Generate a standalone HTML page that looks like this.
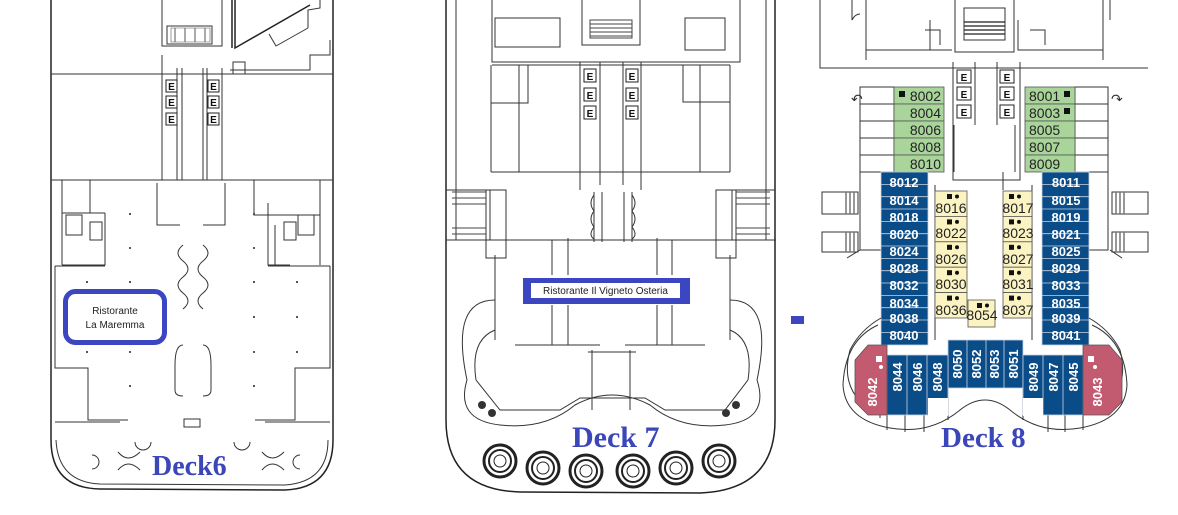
<!DOCTYPE html>
<html><head><meta charset="utf-8"><style>
html,body{margin:0;padding:0;background:#fff;}
svg{display:block;}
.l{fill:none;stroke:#333;stroke-width:1;}
.t{stroke:#222;stroke-width:1.5;fill:none;}
.e{fill:#fff;stroke:#222;stroke-width:1;}
.et{font:bold 10px "Liberation Sans",sans-serif;fill:#111;text-anchor:middle;}
.dk{font-family:"Liberation Serif",serif;font-weight:bold;fill:#3b46b8;}
.g{fill:#a9d59b;stroke:#555;stroke-width:.8;}
.gt{font:14px "Liberation Sans",sans-serif;fill:#222;text-anchor:end;}
.b{fill:#0a4c88;stroke:#c8d4e4;stroke-width:.8;}
.bt{font:bold 13px "Liberation Sans",sans-serif;fill:#fff;text-anchor:middle;}
.y{fill:#fbf3c2;stroke:#555;stroke-width:.8;}
.yt{font:14px "Liberation Sans",sans-serif;fill:#222;text-anchor:middle;}
.p{fill:#c25a70;stroke:#555;stroke-width:.8;}
.pt{font:bold 13px "Liberation Sans",sans-serif;fill:#fff;text-anchor:middle;}
.dot{fill:#555;}
</style></head><body>
<svg width="1178" height="515" viewBox="0 0 1178 515" xmlns="http://www.w3.org/2000/svg">
<!-- ================= DECK 6 ================= -->
<g>
<path class="t" d="M51 0 V440 Q51 488 100 489 L285 490 Q333 488 333 440 V0"/>
<path class="l" d="M56 440 Q58 482 100 484 L285 485 Q328 482 328 440"/>
<line class="l" x1="51" y1="74" x2="333" y2="74"/>
<line class="l" x1="51" y1="180" x2="333" y2="180"/>
<path class="l" d="M162 0 V46 H222 V0 M167 26 H212 V44 H167Z"/>
<path d="M171 28 H210 V42 H171Z" fill="none" stroke="#555" stroke-width="0.6"/>
<line x1="175" y1="28" x2="175" y2="42" stroke="#555"/><line x1="185" y1="28" x2="185" y2="42" stroke="#555"/><line x1="195" y1="28" x2="195" y2="42" stroke="#555"/><line x1="205" y1="28" x2="205" y2="42" stroke="#555"/>
<path class="t" d="M235 0 L235 48 L310 5 M232 0 V48"/>
<path class="l" d="M269 34 L276 46 L308 28 M308 28 V10 L320 8 V0 M330 40 V55 H310 V70 H230"/>
<path class="l" d="M233 74 V62 H245 V74"/>
<path class="l" d="M162 55 V180 M177 68 V180 M182 68 V180 M203 68 V180 M207 68 V180 M222 68 V180"/>
<rect class="e" x="166" y="80" width="11" height="12"/><text class="et" x="171.5" y="90">E</text>
<rect class="e" x="166" y="96" width="11" height="12"/><text class="et" x="171.5" y="106">E</text>
<rect class="e" x="166" y="113" width="11" height="12"/><text class="et" x="171.5" y="123">E</text>
<rect class="e" x="208" y="80" width="11" height="12"/><text class="et" x="213.5" y="90">E</text>
<rect class="e" x="208" y="96" width="11" height="12"/><text class="et" x="213.5" y="106">E</text>
<rect class="e" x="208" y="113" width="11" height="12"/><text class="et" x="213.5" y="123">E</text>
<path class="l" d="M157 183 V225 H180 M225 183 V225 H203 M62 180 V265 M90 180 V213 M105 213 V265 H62 M105 213 H62"/>
<path class="l" d="M254 180 V215 H320 V180 M320 213 V265 M268 203 V265 H290 M275 225 V265"/>
<rect x="66" y="215" width="16" height="20" fill="none" stroke="#333"/><rect x="90" y="222" width="12" height="18" fill="none" stroke="#333"/>
<rect x="284" y="222" width="12" height="18" fill="none" stroke="#333"/><rect x="298" y="215" width="16" height="20" fill="none" stroke="#333"/>
<path class="l" d="M55 266 H105 M268 266 H330 M55 266 V368 H88 V420 H128 M330 266 V368 H295 V420 H255"/>
<path class="l" d="M55 422 H120 M265 422 H330"/>
<path class="l" d="M183 245 q-10 8 0 16 q10 8 0 16 q-10 8 0 16 q10 8 0 16 M203 245 q10 8 0 16 q-10 8 0 16 q10 8 0 16 q-10 8 0 16"/>
<path class="l" d="M183 345 q-8 0 -8 20 v25 q0 6 8 6 M203 345 q8 0 8 20 v25 q0 6 -8 6"/>
<rect x="184" y="419" width="16" height="8" fill="none" stroke="#333"/>
<path class="l" d="M92 455 a7 7 0 0 1 0 14 M118 452 q10 12 22 0 M118 470 q10 -12 22 0 M135 442 a8 8 0 0 0 16 0 M234 442 a8 8 0 0 0 16 0 M262 452 q10 12 22 0 M262 470 q10 -12 22 0 M300 455 a7 7 0 0 0 0 14"/>
<g class="dot">
<rect x="129" y="247" width="2" height="2"/><rect x="253" y="247" width="2" height="2"/>
<rect x="86" y="281" width="2" height="2"/><rect x="129" y="281" width="2" height="2"/><rect x="253" y="281" width="2" height="2"/><rect x="296" y="281" width="2" height="2"/>
<rect x="253" y="316" width="2" height="2"/><rect x="296" y="316" width="2" height="2"/>
<rect x="86" y="351" width="2" height="2"/><rect x="129" y="351" width="2" height="2"/><rect x="253" y="351" width="2" height="2"/><rect x="296" y="351" width="2" height="2"/>
<rect x="129" y="385" width="2" height="2"/><rect x="253" y="385" width="2" height="2"/>
<rect x="129" y="213" width="2" height="2"/><rect x="253" y="213" width="2" height="2"/>
</g>
<rect x="65.5" y="291.5" width="99" height="51" rx="10" fill="#fff" stroke="#3b46c0" stroke-width="5"/>
<text x="115" y="314" font-family="Liberation Sans,sans-serif" font-size="10" text-anchor="middle" fill="#222">Ristorante</text>
<text x="115" y="328" font-family="Liberation Sans,sans-serif" font-size="10" text-anchor="middle" fill="#222">La Maremma</text>
<text class="dk" x="152" y="475" font-size="28">Deck6</text>
</g>

<!-- ================= DECK 7 ================= -->
<g>
<path class="t" d="M446 0 V420 Q446 490 520 492 L700 493 Q775 490 775 420 V0"/>
<line class="l" x1="456" y1="0" x2="456" y2="240"/><line class="l" x1="766" y1="0" x2="766" y2="240"/>
<path class="l" d="M492 0 V62 H740 V0 M582 0 V45 H640 V0"/>
<path d="M590 20 H632 V38 H590Z" fill="none" stroke="#444"/>
<line x1="590" y1="24" x2="632" y2="24" stroke="#444"/><line x1="590" y1="28" x2="632" y2="28" stroke="#444"/><line x1="590" y1="32" x2="632" y2="32" stroke="#444"/><line x1="590" y1="36" x2="632" y2="36" stroke="#444"/>
<path class="l" d="M495 18 H560 V47 H495Z M685 18 H725 V50 H685Z"/>
<line class="l" x1="492" y1="65" x2="730" y2="65"/>
<path class="l" d="M491 65 V172 M730 65 V172 M580 62 V190 M600 62 V185 M623 62 V185 M641 62 V190 M519 65 V172 M700 65 V172 M491 103 H528 V65 M730 102 H683 V65"/>
<rect class="e" x="584" y="69" width="12" height="13"/><text class="et" x="590" y="80">E</text>
<rect class="e" x="584" y="88" width="12" height="13"/><text class="et" x="590" y="99">E</text>
<rect class="e" x="584" y="106" width="12" height="13"/><text class="et" x="590" y="117">E</text>
<rect class="e" x="626" y="69" width="12" height="13"/><text class="et" x="632" y="80">E</text>
<rect class="e" x="626" y="88" width="12" height="13"/><text class="et" x="632" y="99">E</text>
<rect class="e" x="626" y="106" width="12" height="13"/><text class="et" x="632" y="117">E</text>
<line class="l" x1="491" y1="172" x2="730" y2="172"/>
<path class="l" d="M446 190 H490 V240 M775 190 H732 V240"/>
<rect x="486" y="190" width="20" height="68" fill="none" stroke="#333"/><rect x="716" y="190" width="20" height="68" fill="none" stroke="#333"/>
<path d="M452 192 H486 M452 198 H486 M452 204 H486 M452 228 H486 M452 234 H486 M736 192 H770 M736 198 H770 M736 204 H770 M736 228 H770 M736 234 H770" stroke="#444"/>
<path class="l" d="M446 240 H776"/>
<path class="l" d="M594 192 v50 M602 192 v50 M632 192 v50 M624 192 v50 M552 240 V275 M568 238 V275 M657 238 V275 M672 240 V275 M552 305 V345 M568 305 V345 M657 305 V345 M672 305 V345"/>
<path class="l" d="M594 195 q-6 8 0 16 q-6 8 0 16 q-6 8 0 12 M632 195 q6 8 0 16 q6 8 0 16 q6 8 0 12"/>
<path class="l" d="M495 255 V340 M730 255 V340 M515 345 H600 M625 345 H705 M592 350 V410 M630 350 V410 M588 352 H636"/>
<path class="l" d="M476 380 Q470 340 495 330 M748 380 Q754 340 730 330"/>
<path class="l" d="M476 380 L500 410 L560 410 L580 398 L645 398 L665 410 L725 410 L748 380 M467 380 Q455 420 500 425 Q545 430 575 405 Q612 385 650 405 Q680 430 725 425 Q770 420 757 380"/>
<path class="l" d="M467 380 Q450 300 495 300 M757 380 Q774 300 730 300"/>
<g fill="#333"><circle cx="482" cy="405" r="4"/><circle cx="492" cy="413" r="4"/><circle cx="736" cy="405" r="4"/><circle cx="726" cy="413" r="4"/></g>
<g fill="none" stroke="#222">
<circle cx="500" cy="461" r="16" stroke-width="3"/><circle cx="500" cy="461" r="11" stroke-width="2"/><circle cx="500" cy="461" r="6" stroke-width="1"/>
<circle cx="543" cy="468" r="16" stroke-width="3"/><circle cx="543" cy="468" r="11" stroke-width="2"/><circle cx="543" cy="468" r="6" stroke-width="1"/>
<circle cx="586" cy="471" r="16" stroke-width="3"/><circle cx="586" cy="471" r="11" stroke-width="2"/><circle cx="586" cy="471" r="6" stroke-width="1"/>
<circle cx="633" cy="471" r="16" stroke-width="3"/><circle cx="633" cy="471" r="11" stroke-width="2"/><circle cx="633" cy="471" r="6" stroke-width="1"/>
<circle cx="676" cy="468" r="16" stroke-width="3"/><circle cx="676" cy="468" r="11" stroke-width="2"/><circle cx="676" cy="468" r="6" stroke-width="1"/>
<circle cx="719" cy="461" r="16" stroke-width="3"/><circle cx="719" cy="461" r="11" stroke-width="2"/><circle cx="719" cy="461" r="6" stroke-width="1"/>
</g>
<rect x="523" y="278" width="167" height="26" fill="#3b46c0"/>
<rect x="531" y="283" width="149" height="15" fill="#fff"/>
<text x="605.5" y="294" font-family="Liberation Sans,sans-serif" font-size="10" text-anchor="middle" fill="#222">Ristorante Il Vigneto Osteria</text>
<text class="dk" x="572" y="447" font-size="30">Deck 7</text>
</g>
<rect x="791" y="316" width="13" height="8" fill="#3b46c0"/>

<!-- ================= DECK 8 ================= -->
<g>
<path class="l" d="M820 0 V68 H1148 M852 0 V20 Q855 14 860 14 M1110 0 V20 M866 0 V60 M1103 0 V60 M955 0 V52 H1014 V0 M964 8 H1005 V40 H964Z"/>
<path d="M964 22 H1005 M964 26 H1005 M964 30 H1005 M964 34 H1005" stroke="#222" stroke-width="1.2"/>
<path class="l" d="M930 20 V50 H950 M1018 20 V50 H1040 M925 30 H940 V45 M1030 30 H1045 V45 M866 50 H952 M1018 50 H1103"/>
<path class="l" d="M953 62 V180 H1020 V62 M975 62 V125 M997 62 V125"/>
<rect class="e" x="957" y="70" width="14" height="13"/><text class="et" x="964" y="81">E</text>
<rect class="e" x="957" y="87" width="14" height="13"/><text class="et" x="964" y="98">E</text>
<rect class="e" x="957" y="105" width="14" height="13"/><text class="et" x="964" y="116">E</text>
<rect class="e" x="1000" y="70" width="14" height="13"/><text class="et" x="1007" y="81">E</text>
<rect class="e" x="1000" y="87" width="14" height="13"/><text class="et" x="1007" y="98">E</text>
<rect class="e" x="1000" y="105" width="14" height="13"/><text class="et" x="1007" y="116">E</text>
<path class="l" d="M860 87 H894 V172 H860Z M1075 87 H1108 V172 H1075Z M860 104 H894 M860 121 H894 M860 138 H894 M860 155 H894 M1075 104 H1108 M1075 121 H1108 M1075 138 H1108 M1075 155 H1108"/>
<path class="l" d="M860 172 V250 H881 M1108 172 V250 H1089 M847 258 Q860 250 860 250 M1122 258 Q1110 250 1110 250"/>
<path class="l" d="M954 125 V172 M1015 125 V172 M935 185 V340 M1032 185 V340 M1003 172 V190"/>
<path d="M822 192 H858 V214 H822Z M822 232 H858 V252 H822Z M1112 192 H1148 V214 H1112Z M1112 232 H1148 V252 H1112Z" fill="none" stroke="#333"/>
<path d="M846 192 v22 M850 192 v22 M854 192 v22 M846 232 v20 M850 232 v20 M854 232 v20 M1116 192 v22 M1120 192 v22 M1124 192 v22 M1116 232 v20 M1120 232 v20 M1124 232 v20" stroke="#777" stroke-width="1.5"/>
<text x="851" y="104" font-size="14" fill="#333" font-family="DejaVu Sans,sans-serif">↶</text>
<text x="1111" y="104" font-size="14" fill="#333" font-family="DejaVu Sans,sans-serif">↷</text>
<rect class="g" x="894" y="87" width="50" height="17"/><rect class="g" x="894" y="104" width="50" height="17"/><rect class="g" x="894" y="121" width="50" height="17"/><rect class="g" x="894" y="138" width="50" height="17"/><rect class="g" x="894" y="155" width="50" height="17"/>
<rect x="899" y="91" width="6" height="6" fill="#111"/>
<text class="gt" x="941" y="101">8002</text><text class="gt" x="941" y="118">8004</text><text class="gt" x="941" y="135">8006</text><text class="gt" x="941" y="152">8008</text><text class="gt" x="941" y="169">8010</text>
<rect class="g" x="1025" y="87" width="50" height="17"/><rect class="g" x="1025" y="104" width="50" height="17"/><rect class="g" x="1025" y="121" width="50" height="17"/><rect class="g" x="1025" y="138" width="50" height="17"/><rect class="g" x="1025" y="155" width="50" height="17"/>
<rect x="1064" y="91" width="6" height="6" fill="#111"/><rect x="1064" y="108" width="6" height="6" fill="#111"/>
<g style="font:14px 'Liberation Sans',sans-serif;fill:#222"><text x="1029" y="101">8001</text><text x="1029" y="118">8003</text><text x="1029" y="135">8005</text><text x="1029" y="152">8007</text><text x="1029" y="169">8009</text></g>
<rect class="b" x="881" y="172" width="47" height="173"/>
<rect class="b" x="1042" y="172" width="47" height="173"/>
<g stroke="#c8d4e4" stroke-width=".8">
<path d="M881 184.4H928M881 196.7H928M881 209H928M881 221.4H928M881 233.7H928M881 246H928M881 258.4H928M881 270.7H928M881 283H928M881 295.4H928M881 307.7H928M881 320H928M881 332.4H928"/>
<path d="M1042 184.4H1089M1042 196.7H1089M1042 209H1089M1042 221.4H1089M1042 233.7H1089M1042 246H1089M1042 258.4H1089M1042 270.7H1089M1042 283H1089M1042 295.4H1089M1042 307.7H1089M1042 320H1089M1042 332.4H1089"/>
</g>
<g class="bt">
<text x="904" y="187">8012</text><text x="904" y="205">8014</text><text x="904" y="222">8018</text><text x="904" y="239">8020</text><text x="904" y="256">8024</text><text x="904" y="273">8028</text><text x="904" y="290">8032</text><text x="904" y="308">8034</text><text x="904" y="323">8038</text><text x="904" y="340">8040</text>
<text x="1066" y="187">8011</text><text x="1066" y="205">8015</text><text x="1066" y="222">8019</text><text x="1066" y="239">8021</text><text x="1066" y="256">8025</text><text x="1066" y="273">8029</text><text x="1066" y="290">8033</text><text x="1066" y="308">8035</text><text x="1066" y="323">8039</text><text x="1066" y="340">8041</text>
</g>
<g>
<rect class="y" x="935" y="191" width="32" height="25.4"/><rect class="y" x="935" y="216.4" width="32" height="25.4"/><rect class="y" x="935" y="241.8" width="32" height="25.4"/><rect class="y" x="935" y="267.2" width="32" height="25.4"/><rect class="y" x="935" y="292.6" width="32" height="25.4"/>
<rect class="y" x="1003" y="191" width="29" height="25.4"/><rect class="y" x="1003" y="216.4" width="29" height="25.4"/><rect class="y" x="1003" y="241.8" width="29" height="25.4"/><rect class="y" x="1003" y="267.2" width="29" height="25.4"/><rect class="y" x="1003" y="292.6" width="29" height="25.4"/>
<rect class="y" x="968" y="300" width="27" height="27"/>
</g>
<g fill="#111">
<rect x="947" y="194" width="5" height="5"/><circle cx="957" cy="196.5" r="2"/>
<rect x="947" y="219.4" width="5" height="5"/><circle cx="957" cy="221.9" r="2"/>
<rect x="947" y="244.8" width="5" height="5"/><circle cx="957" cy="247.3" r="2"/>
<rect x="947" y="270.2" width="5" height="5"/><circle cx="957" cy="272.7" r="2"/>
<rect x="947" y="295.6" width="5" height="5"/><circle cx="957" cy="298.1" r="2"/>
<rect x="1009" y="194" width="5" height="5"/><circle cx="1019" cy="196.5" r="2"/>
<rect x="1009" y="219.4" width="5" height="5"/><circle cx="1019" cy="221.9" r="2"/>
<rect x="1009" y="244.8" width="5" height="5"/><circle cx="1019" cy="247.3" r="2"/>
<rect x="1009" y="270.2" width="5" height="5"/><circle cx="1019" cy="272.7" r="2"/>
<rect x="1009" y="295.6" width="5" height="5"/><circle cx="1019" cy="298.1" r="2"/>
<rect x="977" y="303" width="5" height="5"/><circle cx="987" cy="305.5" r="2"/>
</g>
<g class="yt">
<text x="951" y="213">8016</text><text x="951" y="238">8022</text><text x="951" y="264">8026</text><text x="951" y="289">8030</text><text x="951" y="315">8036</text>
<text x="1018" y="213">8017</text><text x="1018" y="238">8023</text><text x="1018" y="264">8027</text><text x="1018" y="289">8031</text><text x="1018" y="315">8037</text>
<text x="982" y="320">8054</text>
</g>
<path class="l" d="M881 318 Q860 330 850 350 Q838 395 880 415 L880 418 M1089 318 Q1110 330 1120 350 Q1132 395 1090 415"/>
<path class="l" d="M878 325 Q845 340 843 385 Q845 420 890 428 Q930 435 960 410 Q985 390 1010 410 Q1040 435 1080 428 Q1125 420 1127 385 Q1125 340 1092 325"/>
<path class="l" d="M887 415 V430 M905 415 V432 M924 415 V432 M948 388 V420 M1023 388 V420 M1048 415 V432 M1065 415 V432 M1083 415 V430"/>
<rect class="b" x="948" y="340" width="75" height="48"/>
<rect class="b" x="887" y="355" width="61" height="60"/>
<rect class="b" x="1023" y="355" width="60" height="60"/>
<g stroke="#c8d4e4" stroke-width=".8"><path d="M967 340V388M986 340V388M1004 340V388M907 355V415M927 355V415M1043 355V415M1063 355V415"/></g>
<rect x="928" y="398" width="20" height="18" fill="#fff"/>
<rect x="1023" y="398" width="20" height="18" fill="#fff"/>
<g class="bt">
<text transform="translate(962,364) rotate(-90)">8050</text>
<text transform="translate(981,364) rotate(-90)">8052</text>
<text transform="translate(999,364) rotate(-90)">8053</text>
<text transform="translate(1018,364) rotate(-90)">8051</text>
<text transform="translate(902,377) rotate(-90)">8044</text>
<text transform="translate(922,377) rotate(-90)">8046</text>
<text transform="translate(942,377) rotate(-90)">8048</text>
<text transform="translate(1038,377) rotate(-90)">8049</text>
<text transform="translate(1058,377) rotate(-90)">8047</text>
<text transform="translate(1078,377) rotate(-90)">8045</text>
</g>
<path class="p" d="M868 345 H887 V415 H868 L855 402 V360Z"/>
<path class="p" d="M1083 345 H1109 L1122 360 V402 L1109 415 H1083Z"/>
<rect x="876" y="356" width="6" height="6" fill="#fff"/><circle cx="881" cy="367" r="2" fill="#fff"/>
<rect x="1088" y="356" width="6" height="6" fill="#fff"/><circle cx="1095" cy="367" r="2" fill="#fff"/>
<text class="pt" transform="translate(877,392) rotate(-90)">8042</text>
<text class="pt" transform="translate(1102,392) rotate(-90)">8043</text>
<text class="dk" x="941" y="447" font-size="29">Deck 8</text>
</g>
</svg>
</body></html>
